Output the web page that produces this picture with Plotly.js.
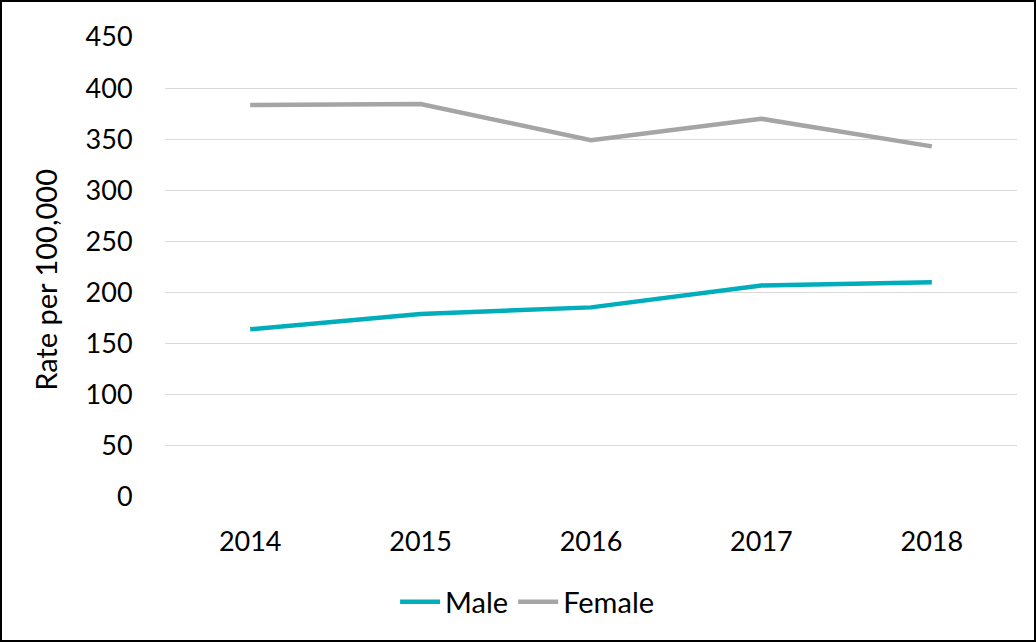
<!DOCTYPE html>
<html>
<head>
<meta charset="utf-8">
<script src="https://cdn.plot.ly/plotly-3.0.1.min.js"></script>
<style>
  html, body { margin: 0; padding: 0; background: #fff; }
  #wrap { position: relative; width: 1036px; height: 642px; }
  #chart { width: 1036px; height: 642px; }
  #frame { position: absolute; left: 0; top: 0; width: 1036px; height: 642px; box-sizing: border-box; border: 2px solid #000; pointer-events: none; }
</style>
</head>
<body>
<div id="wrap"><div id="chart"></div><div id="frame"></div></div>
<script>
const years = ['2014', '2015', '2016', '2017', '2018'];
const male = [164, 179, 185.5, 207, 210];
const female = [383.5, 384.5, 349, 370, 343];
const yTicks = [0, 50, 100, 150, 200, 250, 300, 350, 400, 450];
const yTitle = 'Rate per 100,000';

const font = 'Lato, "Open Sans", sans-serif';

const traces = [
  { x: years, y: male, name: 'Male', type: 'scatter', mode: 'lines',
    line: { color: '#00ADBA', width: 4.5 } },
  { x: years, y: female, name: 'Female', type: 'scatter', mode: 'lines',
    line: { color: '#A5A5A5', width: 4.5 } }
];

const layout = {
  width: 1036, height: 642,
  margin: { l: 165, r: 19, t: 37, b: 145 },
  paper_bgcolor: '#fff', plot_bgcolor: '#fff',
  font: { family: font, size: 27, color: '#000' },
  showlegend: true,
  legend: { orientation: 'h', x: 0.425, xanchor: 'center', y: -0.228, yanchor: 'middle',
            font: { family: font, size: 29, color: '#000' }, itemwidth: 40, tracegroupgap: 0 },
  xaxis: { type: 'category', range: [-0.5, 4.5], showgrid: false, zeroline: false,
           showline: false, ticks: 'outside', ticklen: 21, tickcolor: 'rgba(0,0,0,0)',
           tickfont: { family: font, size: 27, color: '#000' } },
  yaxis: { range: [0, 450], tickvals: yTicks, showgrid: true, gridcolor: '#D9D9D9', gridwidth: 1,
           zeroline: false, showline: false, ticks: 'outside', ticklen: 26, tickcolor: 'rgba(0,0,0,0)',
           tickfont: { family: font, size: 27, color: '#000' } },
  annotations: [
    { text: yTitle, xref: 'paper', yref: 'paper', x: -0.1405, y: 0.473,
      xanchor: 'center', yanchor: 'middle', textangle: -90, showarrow: false,
      font: { family: font, size: 29, color: '#000' } }
  ]
};

Plotly.newPlot('chart', traces, layout, { displayModeBar: false, staticPlot: true });
</script>
</body>
</html>
